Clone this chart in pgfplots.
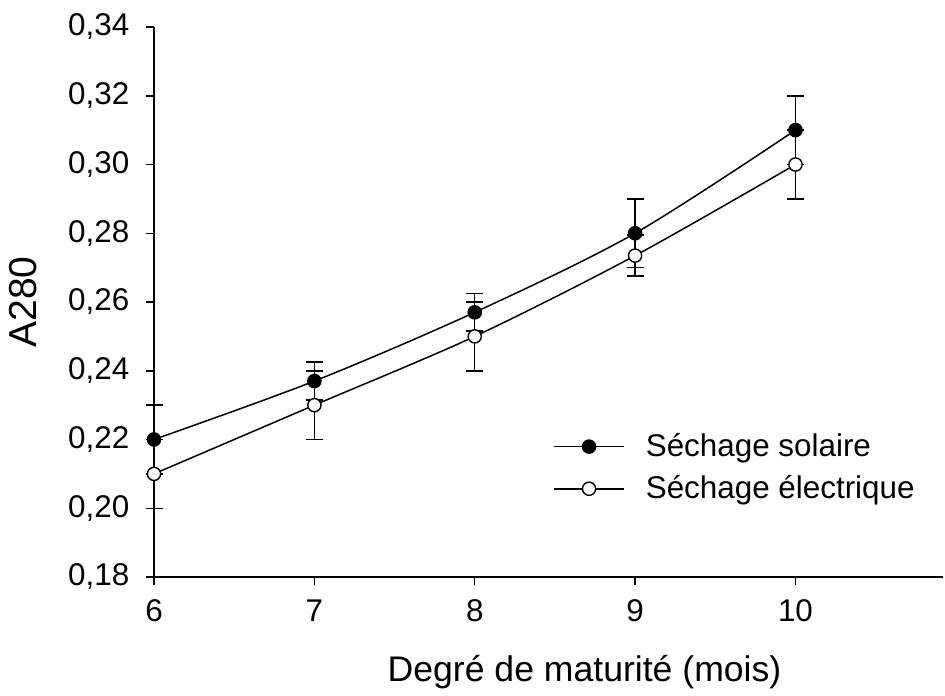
\documentclass[border=0pt]{standalone}
\usepackage{pgfplots}
\pgfplotsset{compat=1.18}
\usepackage{fontspec}
\setmainfont{Liberation Sans}

\begin{document}
\begin{tikzpicture}
\begin{axis}[
    scale only axis,
    width=394.5pt, height=275pt,
    xmin=6, xmax=10.92,
    ymin=0.18, ymax=0.34,
    xtick={6,7,8,9,10},
    ytick={0.18,0.20,...,0.341},
    axis x line*=bottom, axis y line*=left,
    axis line style={-, line width=0.75pt},
    tick align=outside,
    major tick length=3.8pt,
    tick style={line width=0.75pt, black},
    clip=false,
    /pgf/number format/assume math mode=true,
    yticklabel style={/pgf/number format/fixed, /pgf/number format/fixed zerofill,
        /pgf/number format/precision=2, /pgf/number format/use comma, xshift=-5pt},
    xticklabel style={/pgf/number format/fixed, /pgf/number format/precision=0, yshift=-4pt},
    tick label style={font=\fontsize{15.7}{18}\selectfont},
    xlabel={Degré de maturité (mois)},
    ylabel={A280},
    xlabel style={font=\fontsize{17.8}{21}\selectfont, yshift=-10pt, xshift=18pt},
    ylabel style={font=\fontsize{19.5}{23}\selectfont, yshift=9pt},
    legend style={draw=none, fill=none, at={(axis cs:8.45,0.2118)}, anchor=west,
        font=\fontsize{15.7}{18}\selectfont,
        nodes={inner xsep=3pt, inner ysep=1pt}, row sep=6pt},
    legend cell align=left,
    legend image code/.code={
        \draw[mark repeat=2, mark phase=2, #1]
        plot coordinates {(0pt,0pt) (17.5pt,0pt) (35pt,0pt)};
        \path (42.5pt,0pt);
    },
    error bars/error bar style={line width=0.75pt, black},
    error bars/error mark options={line width=0.75pt, mark size=4.25pt, rotate=90},
]
\addplot[smooth, black, line width=0.75pt, mark=*, mark size=3.3pt,
    mark options={fill=black, draw=black, line width=0.7pt},
    error bars/.cd, y dir=both, y explicit]
coordinates {
    (6,0.220) +- (0,0.0100)
    (7,0.237) +- (0,0.0055)
    (8,0.257) +- (0,0.0055)
    (9,0.280) +- (0,0.0100)
    (10,0.310) +- (0,0.0100)
};
\addlegendentry{Séchage solaire}
\addplot[smooth, black, line width=0.75pt, mark=*, mark size=3.3pt,
    mark options={fill=white, draw=black, line width=0.7pt},
    error bars/.cd, y dir=both, y explicit]
coordinates {
    (6,0.210) +- (0,0.0100)
    (7,0.230) +- (0,0.0100)
    (8,0.250) +- (0,0.0100)
    (9,0.2735) +- (0,0.0060)
    (10,0.300) +- (0,0.0100)
};
\addlegendentry{Séchage électrique}
\end{axis}
\path (current axis.south west) ++(-77pt,-55.5pt) rectangle ++(472.5pt,344pt);
\end{tikzpicture}
\end{document}
